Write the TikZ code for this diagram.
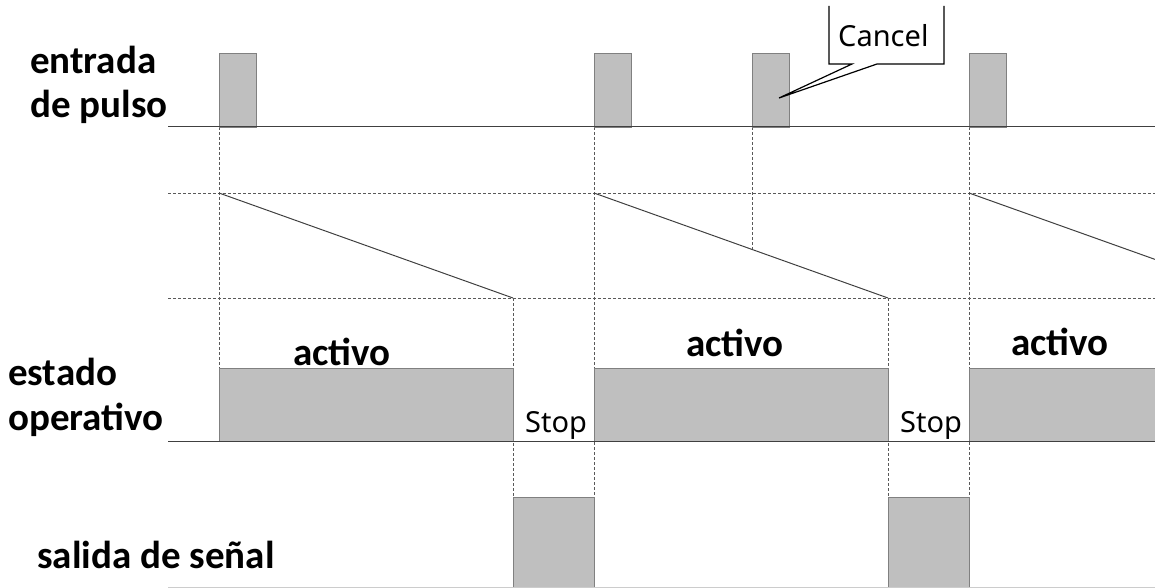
\documentclass[tikz,border=0pt]{standalone}
\usepackage{fontspec}
\setmainfont{Carlito}
\newfontfamily\notefont{Noto Sans}

\tikzset{
  sig/.style = {draw = black!75, line width = 1pt},
  guide/.style = {draw = black!65, dash pattern = on 3pt off 2pt, line width = 0.8pt},
  busy/.style = {fill = black!25, draw = black!50, line width = 0.8pt},
  lbl/.style = {anchor = base west, inner sep = 0pt, font = \fontsize{39}{44}\selectfont\bfseries},
  tag/.style = {anchor = base west, inner sep = 0pt, font = \notefont\fontsize{29}{33}\selectfont}
}

\begin{document}
\begin{tikzpicture}[x = 1pt, y = -1pt]
	\useasboundingbox (0, 0) rectangle (1155, 588);

	% pulse row
	\coordinate (p0) at (168, 127);
	\coordinate (p9) at (1155, 127);
	\coordinate (t1) at (219, 127);
	\coordinate (t2) at (594, 127);
	\coordinate (t3) at (752, 127);
	\coordinate (t4) at (969, 127);

	% timer levels
	\coordinate (h1) at (168, 193);
	\coordinate (h2) at (1155, 193);
	\coordinate (l1) at (168, 298);
	\coordinate (l2) at (1155, 298);

	\coordinate (r1) at (219, 193);
	\coordinate (r2) at (513, 298);
	\coordinate (r3) at (594, 193);
	\coordinate (r4) at (888, 298);
	\coordinate (r5) at (969, 193);
	\coordinate (r6) at (1155, 259.4);
	\coordinate (r7) at (752, 249.4);

	% state and output rows
	\coordinate (s0) at (168, 441);
	\coordinate (s9) at (1155, 441);
	\coordinate (u0) at (168, 587);
	\coordinate (u9) at (1155, 587);

	\coordinate (a1) at (219, 368);
	\coordinate (q1) at (513, 497);
	\coordinate (q2) at (594, 497);
	\coordinate (q3) at (888, 497);
	\coordinate (q4) at (969, 497);

	% dashed guides
	\draw [guide] (h1) -- (h2);
	\draw [guide] (l1) -- (l2);
	\draw [guide] (t1) -- (a1);
	\draw [guide] (t2) -- (q2);
	\draw [guide] (t3) -- (r7);
	\draw [guide] (t4) -- (q4);
	\draw [guide] (r2) -- (q1);
	\draw [guide] (r4) -- (q3);

	% pulses
	\draw [busy] (219, 53) rectangle (256, 127);
	\draw [busy] (594, 53) rectangle (631, 127);
	\draw [busy] (752, 53) rectangle (789, 127);
	\draw [busy] (969, 53) rectangle (1006, 127);

	% active state and output
	\draw [busy] (219, 368) rectangle (513, 441);
	\draw [busy] (594, 368) rectangle (888, 441);
	\draw [busy] (969, 368) rectangle (1160, 441);
	\draw [busy] (513, 497) rectangle (594, 592);
	\draw [busy] (888, 497) rectangle (969, 592);

	\draw [sig] (p0) -- (p9);
	\draw [sig] (s0) -- (s9);
	\draw [draw = black!20, line width = 0.8pt] (u0) -- (u9);

	\draw [sig] (r1) -- (r2);
	\draw [sig] (r3) -- (r4);
	\draw [sig] (r5) -- (r6);

	% cancel callout
	\draw [line width = 1.2pt, fill = white, line join = miter]
		(829, 6) -- (829, 64) -- (852, 64) -- (779, 98) -- (877, 64) -- (944, 64) -- (944, 6);
	\node [tag] (cancel) at (838, 47) {Cancel};

	\node [lbl] (in1) at (30, 74) {entrada};
	\node [lbl] (in2) at (30, 118) {de pulso};
	\node [lbl] (st1) at (8, 385) {estado};
	\node [lbl] (st2) at (8, 430) {operativo};
	\node [lbl] (out) at (37, 568) {salida de señal};

	\node [lbl] (act1) at (293, 365) {activo};
	\node [lbl] (act2) at (686, 356) {activo};
	\node [lbl] (act3) at (1011, 355) {activo};

	\node [tag] (stop1) at (525, 432) {Stop};
	\node [tag] (stop2) at (900, 432) {Stop};
\end{tikzpicture}
\end{document}
